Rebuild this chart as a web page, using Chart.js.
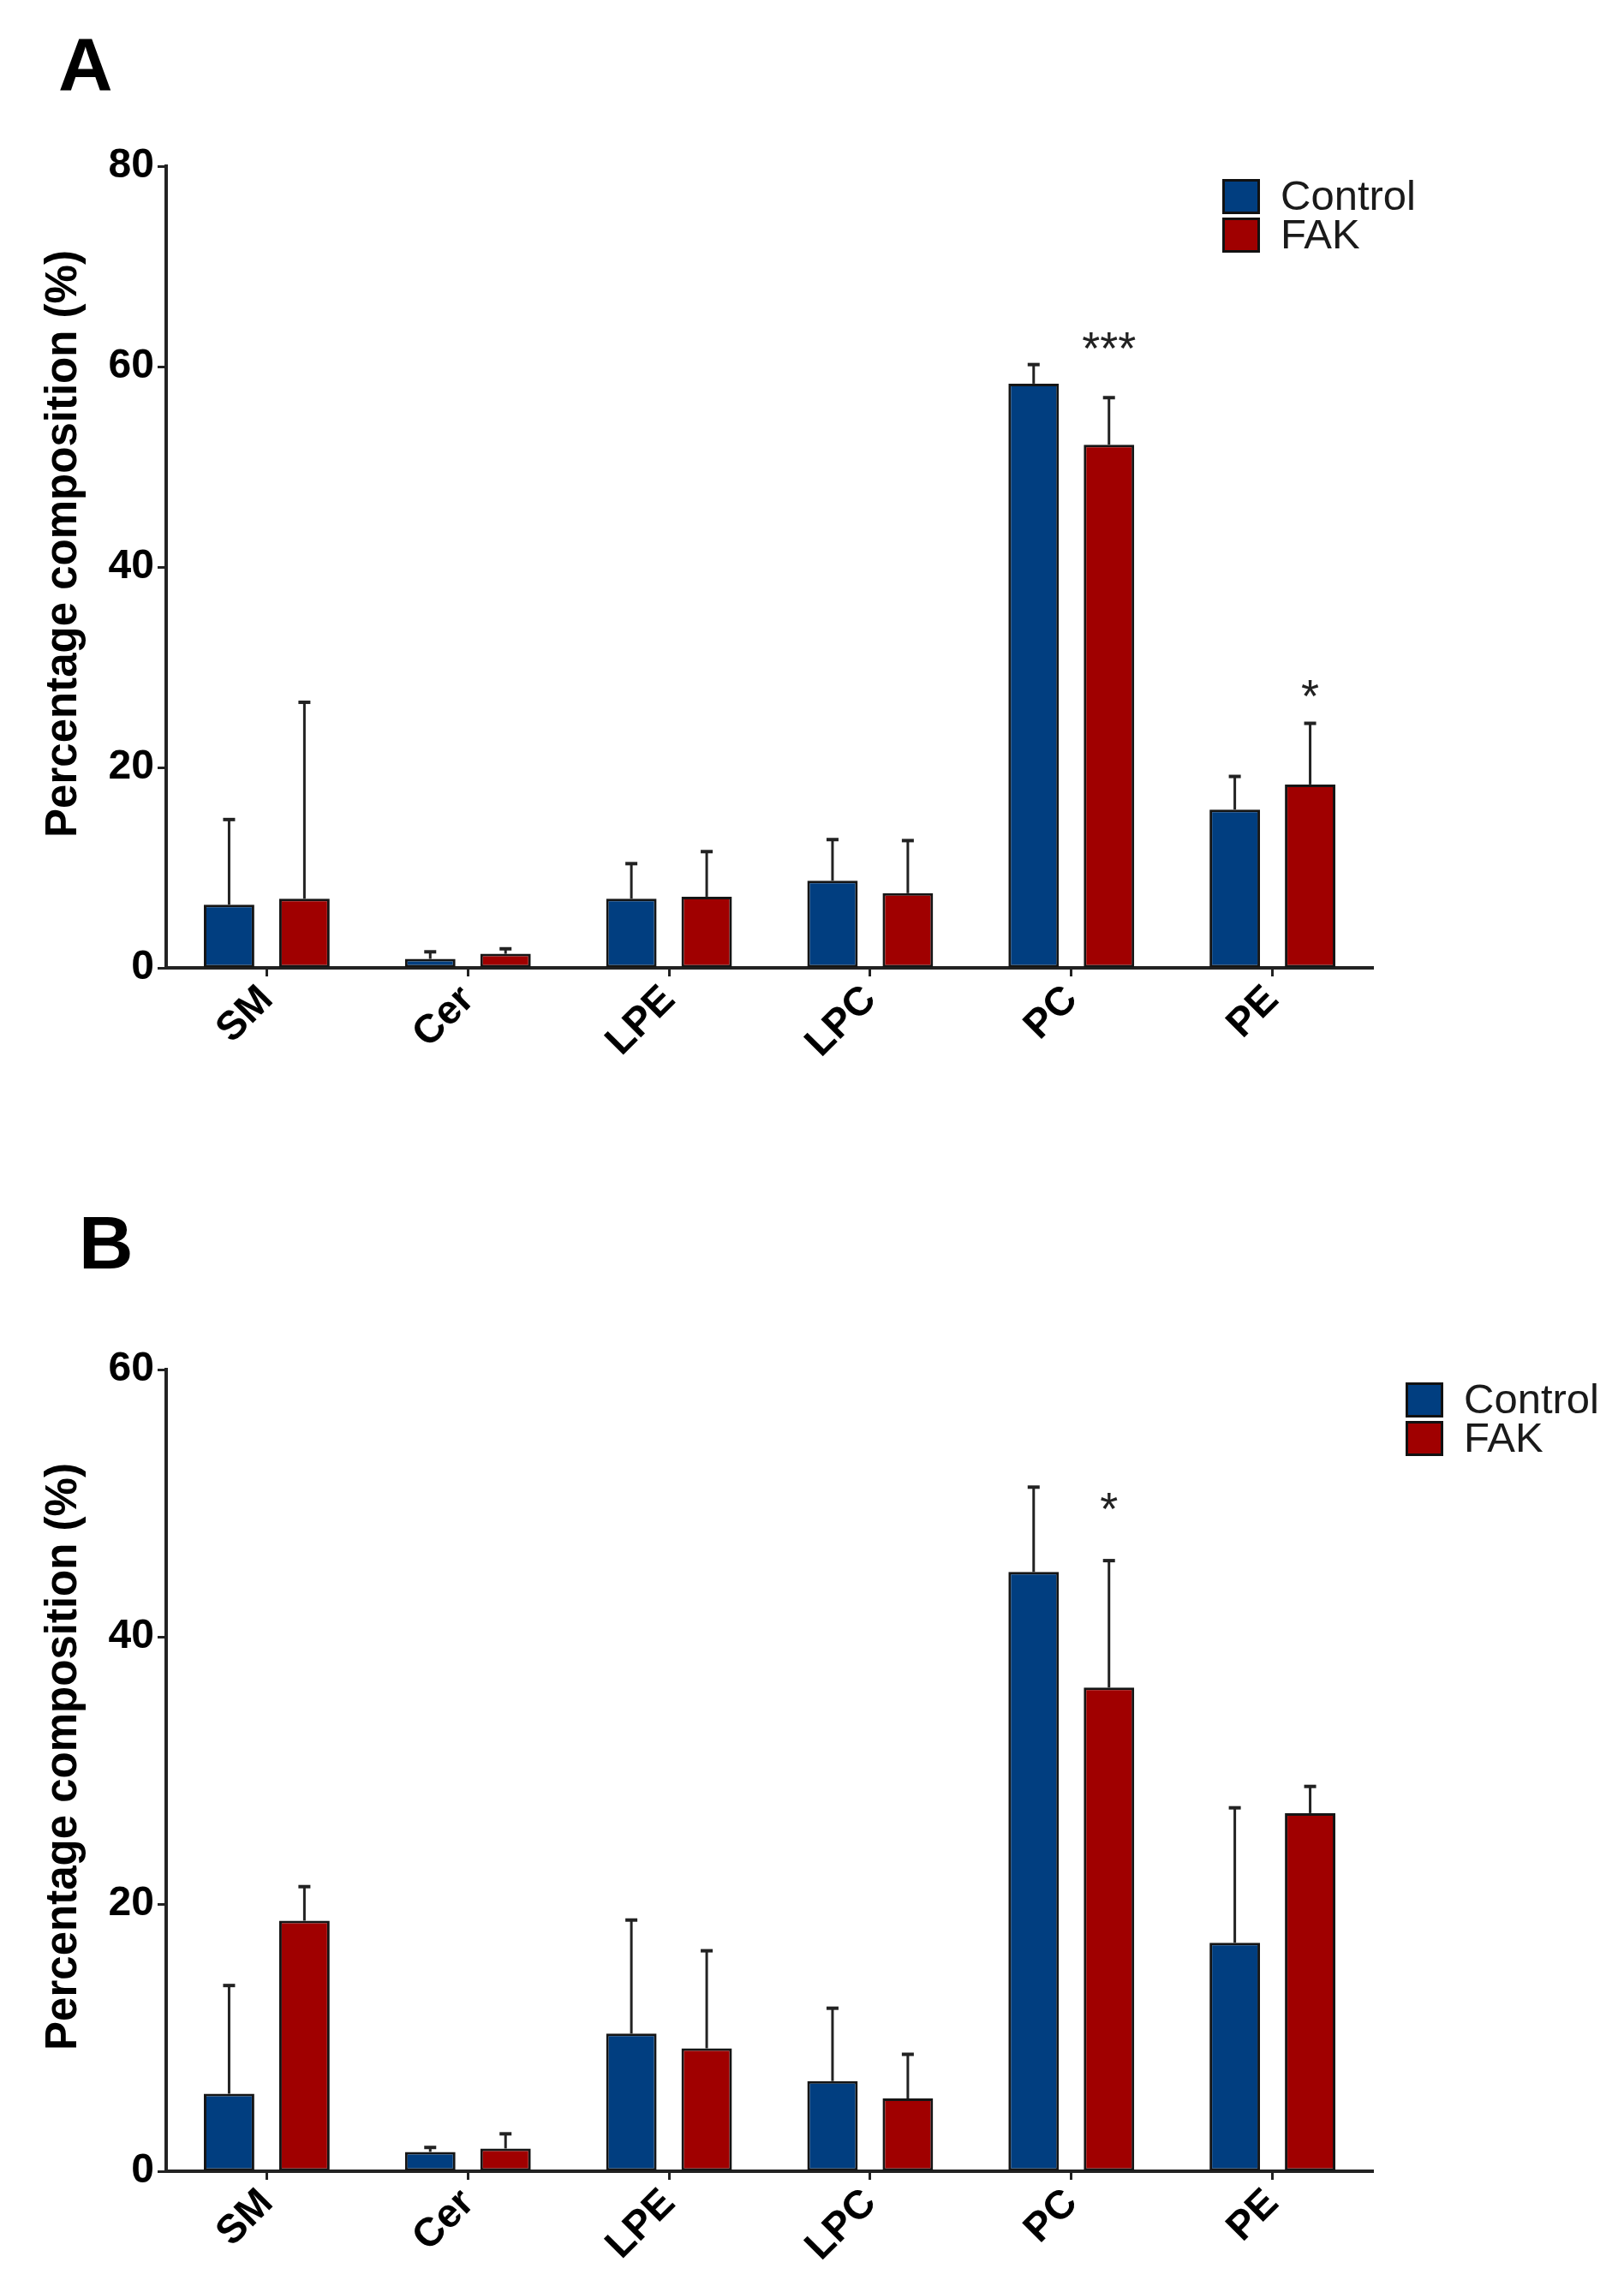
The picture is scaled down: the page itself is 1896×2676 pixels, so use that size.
<!DOCTYPE html>
<html><head><meta charset="utf-8">
<script src="https://cdn.jsdelivr.net/npm/chart.js@4.4.0/dist/chart.umd.min.js"></script>
<style>
html,body{margin:0;padding:0;background:#fff;}
body{width:1896px;height:2676px;position:relative;overflow:hidden;}
canvas{position:absolute;left:0;}
.panel{position:absolute;font-family:"Liberation Sans",Arial,sans-serif;font-weight:bold;font-size:88px;line-height:88px;color:#000;}
</style></head><body>
<div class="panel" style="left:68px;top:31px">A</div>
<div class="panel" style="left:92px;top:1407px">B</div>
<canvas id="cA" width="1896" height="1340" style="top:0px"></canvas>
<canvas id="cB" width="1896" height="1336" style="top:1340px"></canvas>
<script>
// ---- data ----
const categories = ['SM', 'Cer', 'LPE', 'LPC', 'PC', 'PE'];
const seriesNames = ['Control', 'FAK'];
const yTitle = 'Percentage composition (%)';

// Panel A
const controlA   = [6.3, 0.9, 6.9, 8.7, 58.3, 15.8];
const controlAsd = [8.5, 0.7, 3.5, 4.1, 1.9, 3.3];
const fakA       = [6.9, 1.4, 7.1, 7.45, 52.2, 18.3];
const fakAsd     = [19.6, 0.5, 4.5, 5.25, 4.7, 6.1];
const sigA       = ['', '', '', '', '***', '*'];
const sigAy      = [null, null, null, null, 62.9, 28.2];
const yTicksA    = [0, 20, 40, 60, 80];

// Panel B
const controlB   = [5.8, 1.45, 10.3, 6.75, 44.85, 17.1];
const controlBsd = [8.1, 0.33, 8.5, 5.45, 6.35, 10.1];
const fakB       = [18.75, 1.7, 9.2, 5.45, 36.2, 26.8];
const fakBsd     = [2.55, 1.1, 7.3, 3.3, 9.5, 2.0];
const sigB       = ['', '', '', '', '*', ''];
const sigBy      = [null, null, null, null, 50.4, null];
const yTicksB    = [0, 20, 40, 60];

// ---- styles ----
const BLUE = '#013e80';
const RED = '#a00000';
const INK = '#222222';

const errorBarPlugin = {
  id: 'errorBars',
  afterDatasetsDraw(chart, args, opts) {
    const ctx = chart.ctx;
    const yScale = chart.scales.y;
    ctx.save();
    ctx.strokeStyle = INK;
    chart.data.datasets.forEach((ds, d) => {
      const meta = chart.getDatasetMeta(d);
      const sd = opts.sd[d];
      meta.data.forEach((el, i) => {
        const x = el.x;
        const yTop = yScale.getPixelForValue(ds.data[i] + sd[i]);
        ctx.lineWidth = 3;
        ctx.beginPath();
        ctx.moveTo(x, el.y);
        ctx.lineTo(x, yTop);
        ctx.stroke();
        ctx.lineWidth = 4;
        ctx.beginPath();
        ctx.moveTo(x - 7, yTop);
        ctx.lineTo(x + 7, yTop);
        ctx.stroke();
      });
    });
    ctx.restore();
  }
};

const starPlugin = {
  id: 'stars',
  afterDatasetsDraw(chart, args, opts) {
    const ctx = chart.ctx;
    const yScale = chart.scales.y;
    const meta = chart.getDatasetMeta(opts.dataset);
    ctx.save();
    ctx.fillStyle = INK;
    ctx.font = '54px "Liberation Sans", Arial, sans-serif';
    ctx.textAlign = 'center';
    ctx.textBaseline = 'alphabetic';
    opts.marks.forEach((m, i) => {
      if (!m) return;
      const x = meta.data[i].x;
      const y = yScale.getPixelForValue(opts.values[i]);
      ctx.fillText(m, x, y + 31);
    });
    ctx.restore();
  }
};

const legendPlugin = {
  id: 'boxLegend',
  afterDraw(chart, args, opts) {
    const ctx = chart.ctx;
    ctx.save();
    const bw = 44, bh = 41, gap = 4;
    chart.data.datasets.forEach((ds, d) => {
      const x = opts.x, y = opts.y + d * (bh + gap);
      ctx.fillStyle = ds.backgroundColor;
      ctx.fillRect(x, y, bw, bh);
      ctx.lineWidth = 3;
      ctx.strokeStyle = '#111';
      ctx.strokeRect(x + 1.5, y + 1.5, bw - 3, bh - 3);
      ctx.fillStyle = '#1a1a1a';
      ctx.font = '49px "Liberation Sans", Arial, sans-serif';
      ctx.textAlign = 'left';
      ctx.textBaseline = 'middle';
      ctx.fillText(ds.label, x + bw + 24, y + bh / 2 + 2);
    });
    ctx.restore();
  }
};

const yTitlePlugin = {
  id: 'yTitle',
  afterDraw(chart, args, opts) {
    const ctx = chart.ctx;
    ctx.save();
    ctx.translate(opts.x, opts.y);
    ctx.rotate(-Math.PI / 2);
    ctx.fillStyle = '#000';
    ctx.font = 'bold 51px "Liberation Sans", Arial, sans-serif';
    ctx.textAlign = 'center';
    ctx.textBaseline = 'middle';
    ctx.fillText(opts.text, 0, 0);
    ctx.restore();
  }
};

function makeChart(id, ctrl, ctrlSd, fak, fakSd, yTicks, marks, markVals, padTop, padBottom, legendPos, titlePos) {
  const yMax = yTicks[yTicks.length - 1];
  return new Chart(document.getElementById(id), {
    type: 'bar',
    data: {
      labels: categories,
      datasets: [
        { label: seriesNames[0], data: ctrl, backgroundColor: BLUE, borderColor: '#151515', borderWidth: 3, borderSkipped: false },
        { label: seriesNames[1], data: fak, backgroundColor: RED, borderColor: '#151515', borderWidth: 3, borderSkipped: false }
      ]
    },
    options: {
      responsive: false,
      animation: false,
      devicePixelRatio: 1,
      layout: { padding: { left: 0, top: padTop, right: 293, bottom: padBottom } },
      datasets: { bar: { categoryPercentage: 0.749, barPercentage: 0.67 } },
      plugins: {
        legend: { display: false },
        tooltip: { enabled: false },
        errorBars: { sd: [ctrlSd, fakSd] },
        stars: { dataset: 1, marks: marks, values: markVals },
        boxLegend: legendPos,
        yTitle: { text: yTitle, x: titlePos.x, y: titlePos.y }
      },
      scales: {
        x: {
          offset: true,
          afterFit: s => { s.height = 130; },
          grid: { display: true, drawOnChartArea: false, drawTicks: true, offset: false, tickLength: 10, tickWidth: 3, tickColor: INK },
          border: { display: true, width: 4, color: INK },
          ticks: {
            minRotation: 45, maxRotation: 45, autoSkip: false, padding: 0,
            color: '#000',
            font: { family: '"Liberation Sans", Arial, sans-serif', weight: 'bold', size: 47 }
          }
        },
        y: {
          min: 0, max: yMax,
          afterFit: s => { s.width = 194; },
          afterBuildTicks: s => { s.ticks = yTicks.map(v => ({ value: v })); },
          grid: { display: true, drawOnChartArea: false, drawTicks: true, tickLength: 10, tickWidth: 3, tickColor: INK },
          border: { display: true, width: 4, color: INK },
          ticks: {
            padding: 4, color: '#000',
            font: { family: '"Liberation Sans Narrow", "Arial Narrow", "Liberation Sans", sans-serif', weight: 'bold', size: 48 }
          },
          title: { display: false }
        }
      }
    },
    plugins: [errorBarPlugin, starPlugin, legendPlugin, yTitlePlugin]
  });
}

makeChart('cA', controlA, controlAsd, fakA, fakAsd, yTicksA, sigA, sigAy, 194, 1340 - 1130 - 130, { x: 1427, y: 209 }, { x: 75, y: 635 });
makeChart('cB', controlB, controlBsd, fakB, fakBsd, yTicksB, sigB, sigBy, 259, 1336 - 1195 - 130, { x: 1641, y: 274 }, { x: 75, y: 711 });
</script>
</body></html>
